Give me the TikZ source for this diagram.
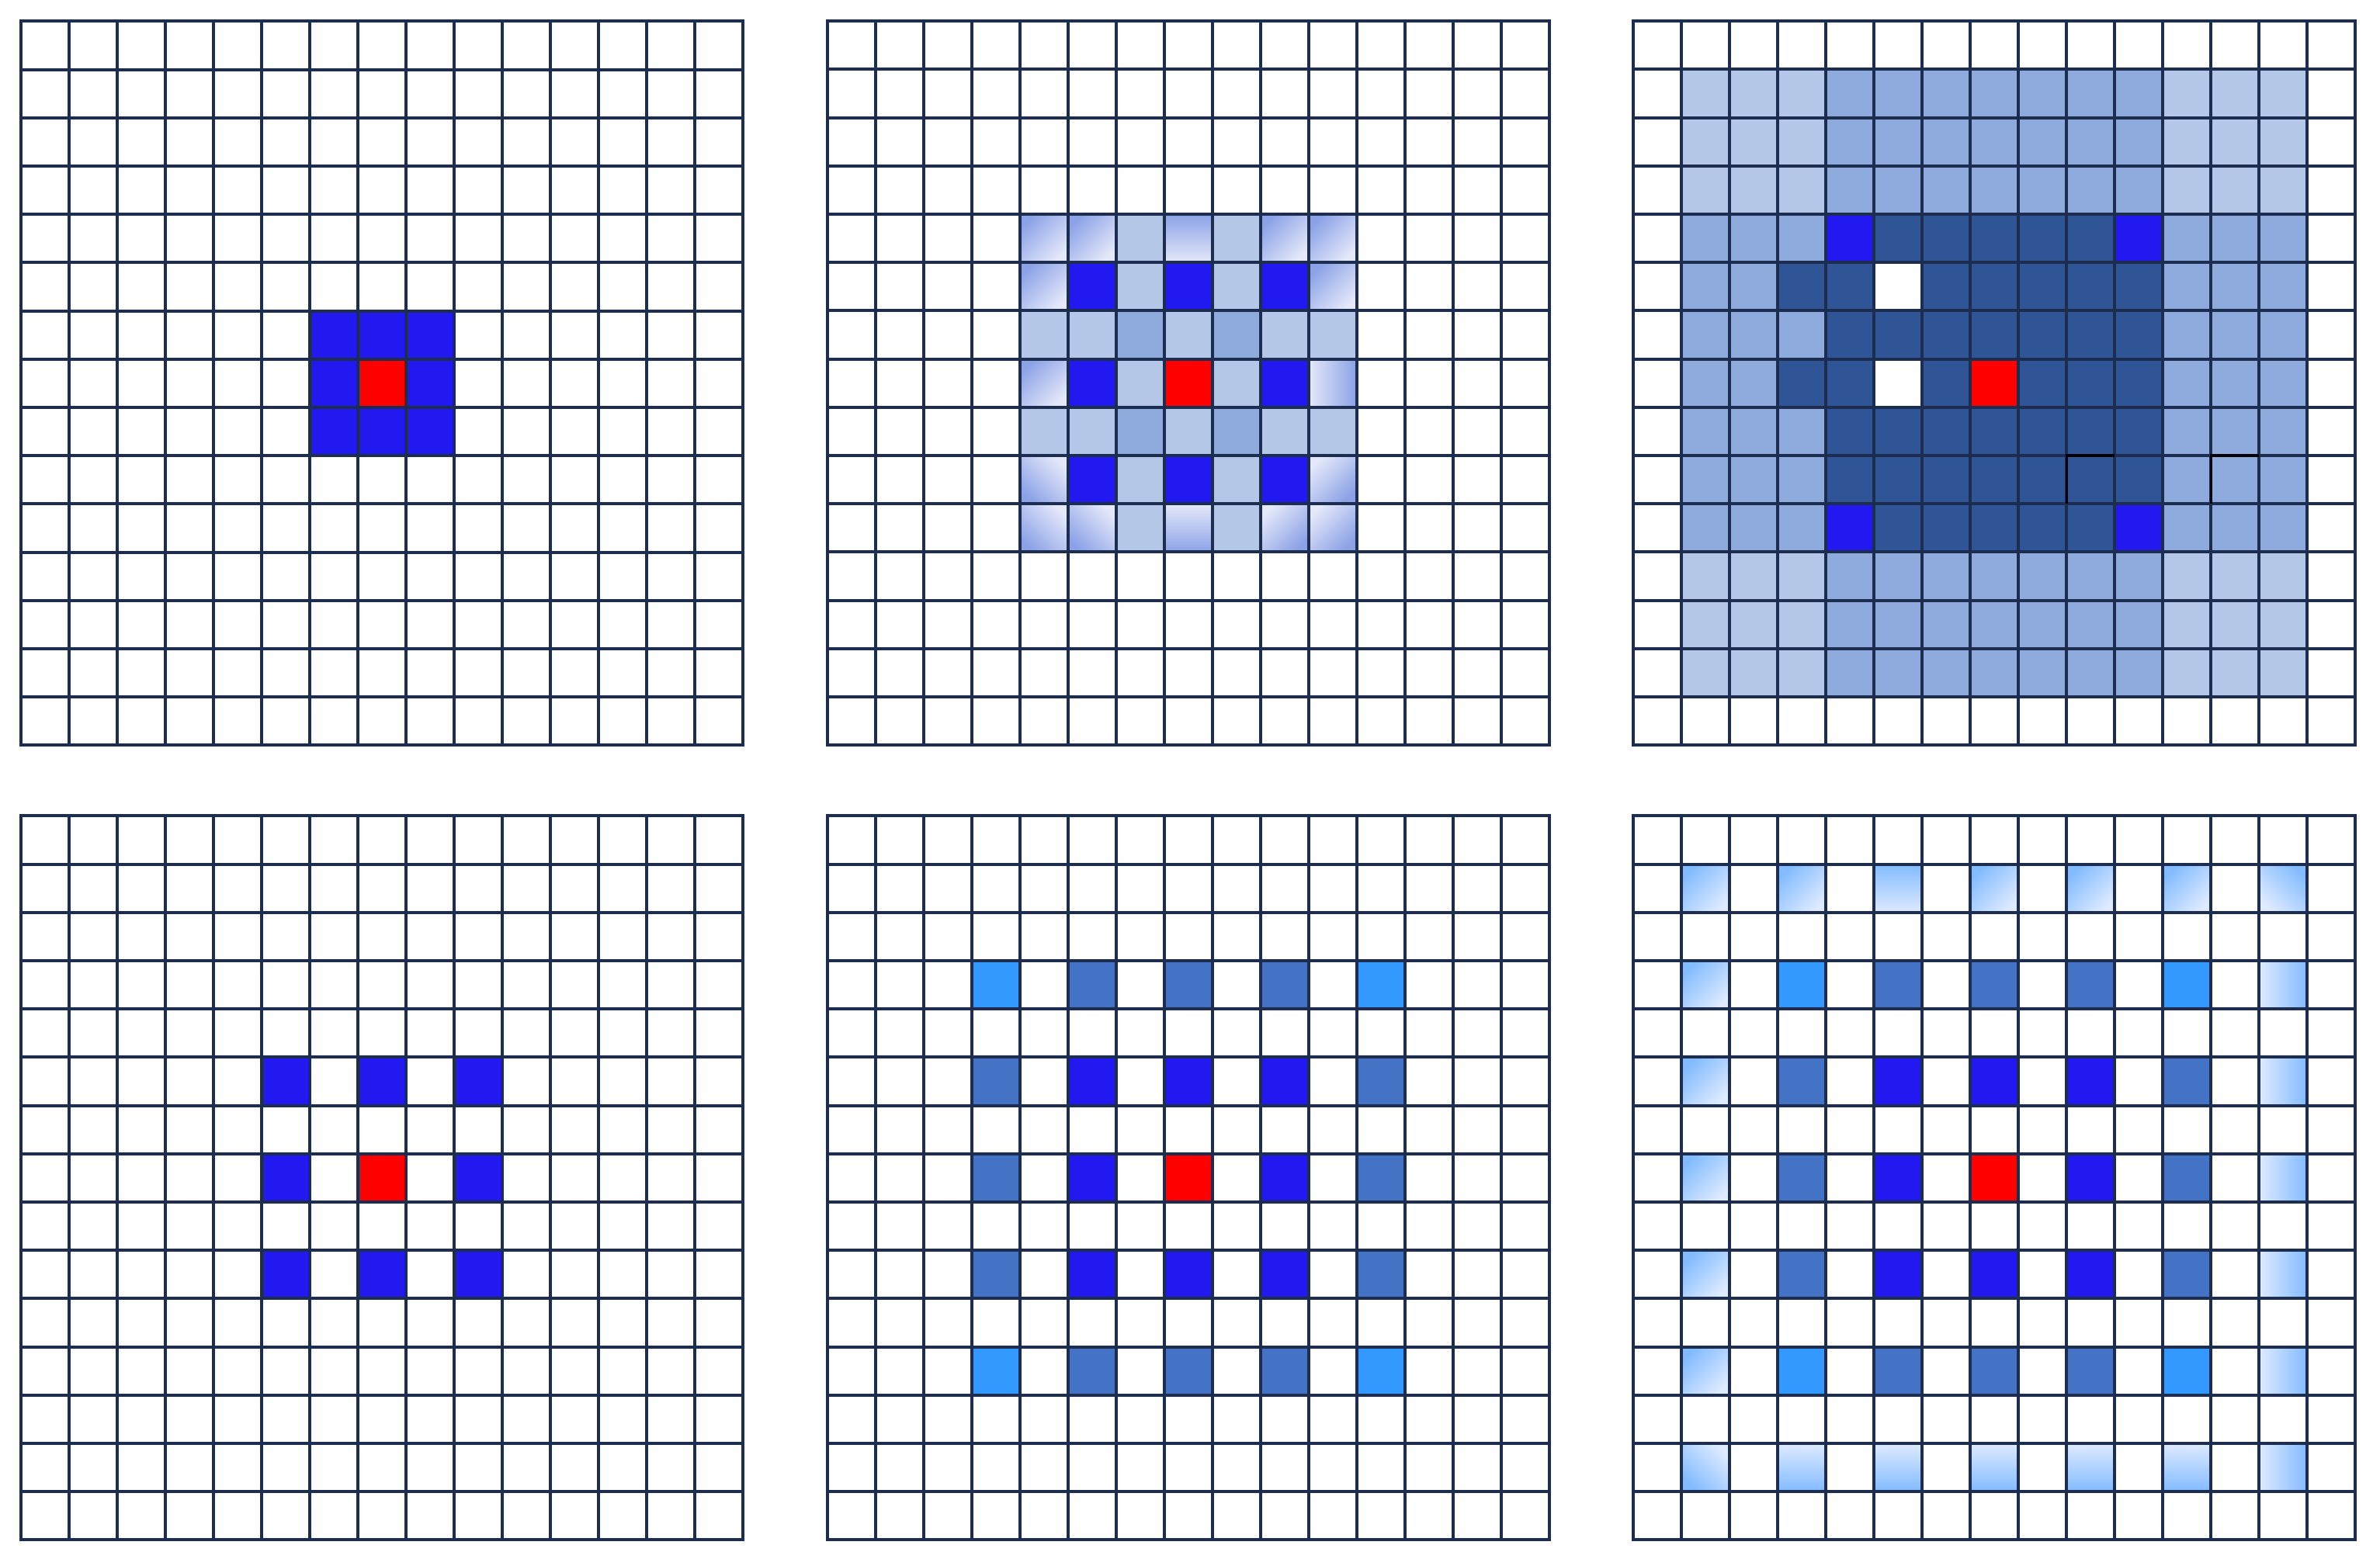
\documentclass[tikz,border=0pt]{standalone}
\definecolor{gridc}{RGB}{28,45,80}
\definecolor{bblue}{RGB}{34,24,240}
\definecolor{rred}{RGB}{255,0,0}
\definecolor{lblue}{HTML}{B4C7E7}
\definecolor{mblue}{HTML}{8FAADC}
\definecolor{dblue}{HTML}{2F5597}
\definecolor{ablue}{HTML}{4472C4}
\definecolor{sblue}{HTML}{3399FF}
\definecolor{gdarkA}{RGB}{140,162,231}
\definecolor{glightA}{RGB}{228,232,249}
\definecolor{gdarkB}{RGB}{130,187,255}
\definecolor{glightB}{RGB}{222,234,255}
\tikzset{
  gridline/.style={draw=gridc, line width=0.04cm, line cap=rect},
  gridbox/.style={x=0.62cm, y=0.622cm},
  shA/.style={top color=gdarkA, bottom color=glightA, shading angle=#1},
  shB/.style={top color=gdarkB, bottom color=glightB, shading angle=#1},
}
\newcommand\cellc[3]{\fill[#1] (#2,-#3) rectangle ++(1,-1);}
\newcommand\cellg[3]{\shade[#1] (#2,-#3) rectangle ++(1,-1);}
\newcommand\gridlines{\foreach \i in {0,...,15}{\draw[gridline] (\i,0) -- (\i,-15); \draw[gridline] (0,-\i) -- (15,-\i);}}
\begin{document}
\begin{tikzpicture}
\useasboundingbox (0,0) rectangle (30.66,-20.08);
\fill[white] (0,0) rectangle (30.66,-20.08);

% ---------- Grid 1 ----------
\begin{scope}[shift={(0.274cm,-0.274cm)}, gridbox]
  \foreach \c in {6,7,8}{\foreach \r in {6,7,8}{\cellc{bblue}{\c}{\r}}}
  \cellc{rred}{7}{7}
  \gridlines
\end{scope}

% ---------- Grid 2 ----------
\begin{scope}[shift={(10.655cm,-0.272cm)}, gridbox]
  \foreach \c/\r in {6/4,8/4,6/5,8/5,4/6,5/6,7/6,9/6,10/6,6/7,8/7,4/8,5/8,7/8,9/8,10/8,6/9,8/9,6/10,8/10}{\cellc{lblue}{\c}{\r}}
  \foreach \c/\r in {6/6,8/6,6/8,8/8}{\cellc{mblue}{\c}{\r}}
  \foreach \c/\r in {5/5,7/5,9/5,5/7,9/7,5/9,7/9,9/9}{\cellc{bblue}{\c}{\r}}
  \cellc{rred}{7}{7}
  \foreach \c/\r in {4/4,5/4,9/4,10/4,4/5,10/5,4/7}{\cellg{shA=45}{\c}{\r}}
  \cellg{shA=0}{7}{4}
  \cellg{shA=-90}{10}{7}
  \foreach \c/\r in {4/9,4/10,5/10}{\cellg{shA=135}{\c}{\r}}
  \foreach \c/\r in {10/9,9/10,10/10}{\cellg{shA=-135}{\c}{\r}}
  \cellg{shA=180}{7}{10}
  \gridlines
\end{scope}

% ---------- Grid 3 ----------
\begin{scope}[shift={(21.043cm,-0.272cm)}, gridbox]
  \foreach \r in {1,2,3,11,12,13}{
    \foreach \c in {1,2,3,11,12,13}{\cellc{lblue}{\c}{\r}}
    \foreach \c in {4,...,10}{\cellc{mblue}{\c}{\r}}
  }
  \foreach \r in {4,...,10}{
    \foreach \c in {1,2,3,11,12,13}{\cellc{mblue}{\c}{\r}}
    \foreach \c in {4,...,10}{\cellc{dblue}{\c}{\r}}
  }
  \cellc{dblue}{3}{5}
  \cellc{dblue}{3}{7}
  \foreach \c/\r in {4/4,10/4,4/10,10/10}{\cellc{bblue}{\c}{\r}}
  \cellc{white}{5}{5}
  \cellc{white}{5}{7}
  \cellc{rred}{7}{7}
  \gridlines
  \draw[black, line width=0.035cm] (9,-10) -- (9,-9) -- (10,-9);
  \draw[black, line width=0.035cm] (12,-10) -- (12,-9) -- (13,-9);
\end{scope}

% ---------- Grid 4 ----------
\begin{scope}[shift={(0.274cm,-10.514cm)}, gridbox]
  \foreach \c/\r in {5/5,7/5,9/5,5/7,9/7,5/9,7/9,9/9}{\cellc{bblue}{\c}{\r}}
  \cellc{rred}{7}{7}
  \gridlines
\end{scope}

% ---------- Grid 5 ----------
\begin{scope}[shift={(10.655cm,-10.514cm)}, gridbox]
  \foreach \c/\r in {5/5,7/5,9/5,5/7,9/7,5/9,7/9,9/9}{\cellc{bblue}{\c}{\r}}
  \foreach \c/\r in {5/3,7/3,9/3,3/5,11/5,3/7,11/7,3/9,11/9,5/11,7/11,9/11}{\cellc{ablue}{\c}{\r}}
  \foreach \c/\r in {3/3,11/3,3/11,11/11}{\cellc{sblue}{\c}{\r}}
  \cellc{rred}{7}{7}
  \gridlines
\end{scope}

% ---------- Grid 6 ----------
\begin{scope}[shift={(21.043cm,-10.514cm)}, gridbox]
  \foreach \c/\r in {5/5,7/5,9/5,5/7,9/7,5/9,7/9,9/9}{\cellc{bblue}{\c}{\r}}
  \foreach \c/\r in {5/3,7/3,9/3,3/5,11/5,3/7,11/7,3/9,11/9,5/11,7/11,9/11}{\cellc{ablue}{\c}{\r}}
  \foreach \c/\r in {3/3,11/3,3/11,11/11}{\cellc{sblue}{\c}{\r}}
  \cellc{rred}{7}{7}
  \foreach \c/\r in {1/1,3/1,7/1,9/1,11/1,1/3,1/5,1/7,1/9,1/11}{\cellg{shB=45}{\c}{\r}}
  \cellg{shB=0}{5}{1}
  \cellg{shB=-45}{13}{1}
  \foreach \r in {3,5,7,9,11,13}{\cellg{shB=-90}{13}{\r}}
  \cellg{shB=135}{1}{13}
  \foreach \c in {3,5,7,9,11}{\cellg{shB=180}{\c}{13}}
  \gridlines
\end{scope}
\end{tikzpicture}
\end{document}
